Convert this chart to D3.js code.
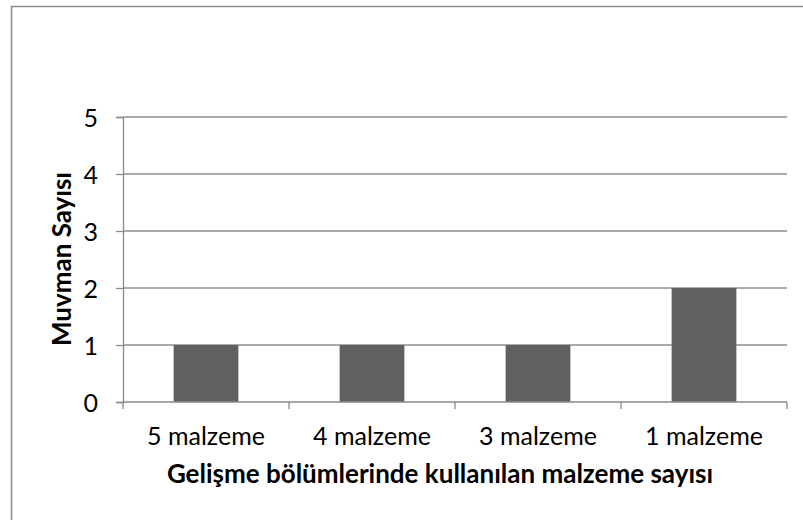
<!DOCTYPE html>
<html><head><meta charset="utf-8">
<script src="https://cdn.jsdelivr.net/npm/d3@7/dist/d3.min.js"></script>
<style>body{margin:0;background:#fff}svg{display:block}text{font-family:Lato,"Open Sans",sans-serif;fill:#000}</style>
</head><body><svg id="c" width="803" height="520"></svg>
<script>
const categories = ["5 malzeme", "4 malzeme", "3 malzeme", "1 malzeme"];
const values = [1, 1, 1, 2];
const yTicks = [0, 1, 2, 3, 4, 5];
const xTitle = "Gelişme bölümlerinde kullanılan malzeme sayısı";
const yTitle = "Muvman Sayısı";

const svg = d3.select("#c");
svg.append("rect").attr("x", 11.5).attr("y", 6.5).attr("width", 820).attr("height", 540)
  .attr("fill", "#fff").attr("stroke", "#8c8c8c").attr("stroke-width", 1.5);

const L = 123, R = 787, T = 117, B = 402;
const x = d3.scaleBand().domain(categories).range([L, R]).paddingInner(0.61).paddingOuter(0.305);
const xb = d3.scaleBand().domain(categories).range([L, R]).padding(0);
const y = d3.scaleLinear().domain([0, 5]).range([B, T]);

// gridlines
svg.append("g").selectAll("line").data(yTicks.filter(d => d > 0)).join("line")
  .attr("x1", L).attr("x2", R).attr("y1", d => y(d)).attr("y2", d => y(d))
  .attr("stroke", "#8f8f8f").attr("stroke-width", 1.3);

// bars
svg.append("g").selectAll("rect").data(values).join("rect")
  .attr("x", (d, i) => x(categories[i])).attr("width", x.bandwidth())
  .attr("y", d => y(d)).attr("height", d => y(0) - y(d))
  .attr("fill", "#606060");

// y axis
const ya = svg.append("g").attr("transform", `translate(${L},0)`)
  .call(d3.axisLeft(y).tickValues(yTicks).tickFormat(d3.format("d")).tickSize(7).tickPadding(18));
ya.select(".domain").attr("stroke", "#8a8a8a").attr("stroke-width", 1.3);
ya.selectAll(".tick line").attr("stroke", "#8a8a8a").attr("stroke-width", 1.3);
ya.selectAll(".tick text").attr("font-size", 25).attr("font-family", "Lato").attr("dy", "0.36em");

// x axis
const xa = svg.append("g").attr("transform", `translate(0,${B})`);
xa.append("line").attr("x1", L).attr("x2", R).attr("stroke", "#8a8a8a").attr("stroke-width", 1.3);
const bounds = categories.map(c => xb(c)).concat([R]);
xa.selectAll("line.tk").data(bounds).join("line").attr("class", "tk")
  .attr("x1", d => d).attr("x2", d => d).attr("y1", 0).attr("y2", 7)
  .attr("stroke", "#8a8a8a").attr("stroke-width", 1.3);
xa.selectAll("text").data(categories).join("text")
  .attr("x", d => xb(d) + xb.bandwidth() / 2).attr("y", 43)
  .attr("text-anchor", "middle").attr("font-size", 25).text(d => d);

// titles
svg.append("text").attr("x", 440).attr("y", 483).attr("text-anchor", "middle")
  .attr("font-size", 26).attr("font-weight", "bold").text(xTitle);
svg.append("text").attr("transform", "translate(71,259) rotate(-90)").attr("text-anchor", "middle")
  .attr("font-size", 26).attr("font-weight", "bold").text(yTitle);
</script></body></html>
